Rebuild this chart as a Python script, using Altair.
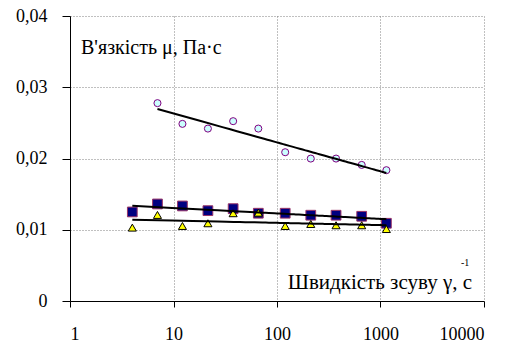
import altair as alt
import pandas as pd

# shear rates (1/s)
rates = [4, 7, 12.2, 21.5, 37.7, 66, 120, 212, 372, 658, 1140]
# viscosity values (Pa·s)
circles = [None, 0.02777, 0.02486, 0.02420, 0.02524, 0.02420, 0.02088, 0.01999, 0.01999, 0.01910, 0.01836]
squares = [0.0125, 0.01362, 0.01334, 0.01268, 0.01296, 0.01232, 0.01232, 0.01204, 0.01204, 0.01189, 0.01091]
triangles = [0.0103, 0.01208, 0.01053, 0.01091, 0.01232, 0.0124, 0.01053, 0.01081, 0.01063, 0.01063, 0.0101]

y_ticks = [0, 0.01, 0.02, 0.03, 0.04]
x_ticks = [1, 10, 100, 1000, 10000]
y_label = "В'язкість μ, Па·с"
x_label = "Швидкість зсуву γ, с"
x_label_sup = "-1"

rows = []
for name, vals in [("circles", circles), ("squares", squares), ("triangles", triangles)]:
    for r, v in zip(rates, vals):
        if v is not None:
            rows.append({"rate": r, "value": v, "series": name})
df = pd.DataFrame(rows)

FONT = "Times New Roman, Liberation Serif, DejaVu Serif, serif"
W, H = 414, 285

xenc = alt.X("rate:Q", scale=alt.Scale(type="log", domain=[1, 10000], nice=False),
             axis=alt.Axis(values=x_ticks, title=None, labelExpr="format(datum.value, 'd')",
                           tickSize=6, labelPadding=18, grid=True,
                           labelFont=FONT, labelFontSize=18, labelColor="black"))
yenc = alt.Y("value:Q", scale=alt.Scale(domain=[0, 0.04], nice=False),
             axis=alt.Axis(values=y_ticks, title=None, tickSize=8, labelPadding=15, grid=True,
                           labelFont=FONT, labelFontSize=18, labelColor="black",
                           labelExpr="datum.value == 0 ? '0' : replace(format(datum.value, '.2f'), '.', ',')"))

base = alt.Chart(df)

trend = base.transform_regression(
    "rate", "value", method="log", groupby=["series"]
).mark_line(color="black", strokeWidth=2).encode(x=xenc, y=yenc, detail="series:N")

pts_c = base.transform_filter(alt.datum.series == "circles").mark_point(
    shape="circle", size=50, filled=True, fill="#ccffff", stroke="#800080", strokeWidth=1, opacity=1
).encode(x=xenc, y=yenc)
pts_s = base.transform_filter(alt.datum.series == "squares").mark_point(
    shape="square", size=95, filled=True, fill="#000080", stroke="#993366", strokeWidth=1, opacity=1
).encode(x=xenc, y=yenc)
pts_t = base.transform_filter(alt.datum.series == "triangles").mark_point(
    shape="triangle-up", size=65, filled=True, fill="#ffff00", stroke="black", strokeWidth=1, opacity=1
).encode(x=xenc, y=yenc)

labels = pd.DataFrame({"t": [y_label, x_label, x_label_sup]})
ylab = alt.Chart(labels.iloc[[0]]).mark_text(align="left", baseline="alphabetic", font=FONT,
                                             fontSize=20, color="black").encode(
    x=alt.value(11), y=alt.value(37.5), text="t:N")
xlab = alt.Chart(labels.iloc[[1]]).mark_text(align="right", baseline="alphabetic", font=FONT,
                                             fontSize=21, color="black").encode(
    x=alt.value(402), y=alt.value(273), text="t:N")
xsup = alt.Chart(labels.iloc[[2]]).mark_text(align="left", baseline="alphabetic", font=FONT,
                                             fontSize=10, color="black").encode(
    x=alt.value(391), y=alt.value(250), text="t:N")

chart = alt.layer(pts_c, pts_s, pts_t, trend, ylab, xlab, xsup).properties(
    width=W, height=H,
    autosize=alt.AutoSizeParams(type="none"),
    padding={"left": 70, "top": 16, "right": 27, "bottom": 42},
    background="white",
).configure_view(stroke=None).configure_axis(
    domainColor="black", domainWidth=1, tickColor="black", tickWidth=1,
    labelFont=FONT, labelFontSize=18, labelColor="black",
    gridColor="#808080", gridDash=[1, 2], gridWidth=1,
)

chart.save("out.html", embed_options={"renderer": "svg", "actions": False})
